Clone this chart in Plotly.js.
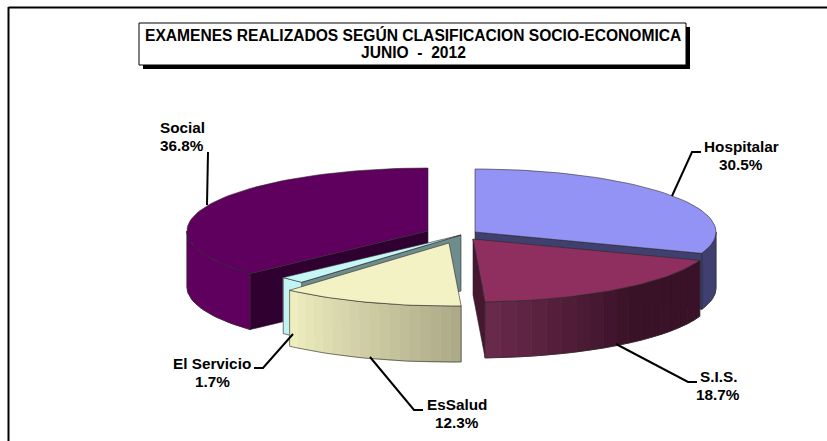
<!DOCTYPE html>
<html><head><meta charset="utf-8">
<script src="https://cdn.plot.ly/plotly-3.0.1.min.js"></script>
<style>html,body{margin:0;padding:0;background:#fff}#c{width:827px;height:441px}</style>
</head><body><div id="c"></div>
<script>
// ---- data ----
const categories = ['Hospitalar','S.I.S.','EsSalud','El Servicio','Social'];
const values = [30.5,18.7,12.3,1.7,36.8];
const titleLines = ['EXAMENES REALIZADOS SEGÚN CLASIFICACION SOCIO-ECONOMICA','JUNIO  -  2012'];
// ---- geometry of the tilted, exploded pie (in axis units) ----
const centerX = [475,473,449,461,428];
const centerY = [232,239,243,235,231];
const RX = 241, RY = 63, DEPTH = 56;
// ---- styles ----
const topColor = ['#9393f6','#8e2f5f','#f2f2c4','#c6f6f6','#5f005f'];
const cutColor = ['#3f3f70','#47162f','#8a8a6e','#6f8c8c','#2f0030'];
const sideFrom = ['#3f3f70','#3a1228','#aba886','#c2f2f2','#5f005f'];
const sideTo   = ['#3f3f70','#6c2a4c','#efefc0','#c2f2f2','#5f005f'];
const sideRamp = [0,0.45,0,0,0];
const edge = '#2a2a2a';
// ---- label placement ----
const labelX = [741,718,457,212,182];
const labelY = [147,377,405,364,128];
const leaderX = [[701,692,672],[697,688,616],[423,414,370],[254,263,293],[208,207]];
const leaderY = [[152,152,196],[382,382,344],[410,410,357],[368,368,334],[152,205]];

const traces = [];
function poly(xs,ys,fill,line,w){
  traces.push({type:'scatter',mode:'lines',x:xs.concat(xs[0]),y:ys.concat(ys[0]),fill:'toself',
    fillcolor:fill,line:{color:line,width:w},hoverinfo:'skip',showlegend:false});
}
function outline(xs,ys){
  traces.push({type:'scatter',mode:'lines',x:xs.concat(xs[0]),y:ys.concat(ys[0]),
    line:{color:edge,width:0.6},hoverinfo:'skip',showlegend:false});
}
function rim(i,deg){const t=deg*Math.PI/180;return [centerX[i]+RX*Math.sin(t),centerY[i]-RY*Math.cos(t)];}
function arc(i,a,b){const n=Math.max(2,Math.ceil(Math.abs(b-a)/2));const p=[];for(let k=0;k<=n;k++)p.push(rim(i,a+(b-a)*k/n));return p;}
function hex(c){return [1,3,5].map(k=>parseInt(c.substr(k,2),16));}
function mix(a,b,t){const A=hex(a),B=hex(b);return 'rgb('+A.map((v,k)=>Math.round(v+(B[k]-v)*t)).join(',')+')';}

const starts=[],ends=[];let acc=0;
values.forEach((v,i)=>{starts[i]=acc*3.6;acc+=v;ends[i]=acc*3.6;});

function cutFace(i,deg){
  const p=rim(i,deg),cx=centerX[i],cy=centerY[i];
  const xs=[cx,p[0],p[0],cx],ys=[cy,p[1],p[1]+DEPTH,cy+DEPTH];
  poly(xs,ys,cutColor[i],edge,0.6);
}
function outerSide(i,a,b){
  const strips=sideFrom[i]===sideTo[i]?1:18;
  for(let s=0;s<strips;s++){
    const a0=a+(b-a)*s/strips,a1=a+(b-a)*(s+1)/strips;
    const p=arc(i,a0,a1);
    const t=Math.max(0,((s+0.5)/strips-sideRamp[i])/(1-sideRamp[i]));
    const c=mix(sideFrom[i],sideTo[i],t);
    const xs=p.map(q=>q[0]).concat(p.slice().reverse().map(q=>q[0]));
    const ys=p.map(q=>q[1]).concat(p.slice().reverse().map(q=>q[1]+DEPTH));
    poly(xs,ys,c,c,0.8);
  }
  const p=arc(i,a,b);
  outline(p.map(q=>q[0]).concat(p.slice().reverse().map(q=>q[0])),
          p.map(q=>q[1]).concat(p.slice().reverse().map(q=>q[1]+DEPTH)));
}
function topFace(i){
  const p=arc(i,starts[i],ends[i]);
  poly([centerX[i]].concat(p.map(q=>q[0])),[centerY[i]].concat(p.map(q=>q[1])),topColor[i],edge,0.6);
}
// painter's order: back to front
const S=4,H=0,I=1,E=2,V=3;
outerSide(S,starts[S],270);cutFace(S,starts[S]);topFace(S);
outerSide(H,90,ends[H]);cutFace(H,ends[H]);topFace(H);
cutFace(I,ends[I]);outerSide(I,starts[I],ends[I]);topFace(I);
cutFace(V,starts[V]);outerSide(V,starts[V],ends[V]);topFace(V);
outerSide(E,starts[E],ends[E]);topFace(E);
// leaders
leaderX.forEach((lx,i)=>traces.push({type:'scatter',mode:'lines',x:lx,y:leaderY[i],
  line:{color:'#000',width:2},hoverinfo:'skip',showlegend:false}));

const font={family:'"Liberation Sans",Arial,sans-serif',size:15.3,color:'#000'};
const annotations=[];
function txt(t,x,y,f){annotations.push({text:'<b>'+t+'</b>',x:x,y:y,xref:'x',yref:'y',showarrow:false,xanchor:'center',yanchor:'middle',font:f||font});}
categories.forEach((c,i)=>{txt(c,labelX[i],labelY[i]-0.5);txt(values[i].toFixed(1)+'%',labelX[i],labelY[i]+17.5);});
const titleFont={family:font.family,size:15.6,color:'#000'};
txt(titleLines[0],413,34.5,titleFont);txt(titleLines[1],413,52.5,titleFont);

const shapes=[
 {type:'line',x0:8.5,x1:827,y0:7.5,y1:7.5,line:{color:'#000',width:2}},
 {type:'line',x0:8.5,x1:8.5,y0:7,y1:441,line:{color:'#000',width:2}},
 {type:'rect',x0:143,x1:690,y0:27,y1:69,fillcolor:'#000',line:{width:0}},
 {type:'rect',x0:139,x1:686,y0:23,y1:65,fillcolor:'#fff',line:{color:'#000',width:1}}
];
Plotly.newPlot('c',traces,{
  width:827,height:441,margin:{l:0,r:0,t:0,b:0},showlegend:false,
  paper_bgcolor:'#fff',plot_bgcolor:'#fff',
  xaxis:{range:[0,827],visible:false,fixedrange:true},
  yaxis:{range:[441,0],visible:false,fixedrange:true},
  shapes:shapes,annotations:annotations
},{displayModeBar:false,staticPlot:true});
</script></body></html>
